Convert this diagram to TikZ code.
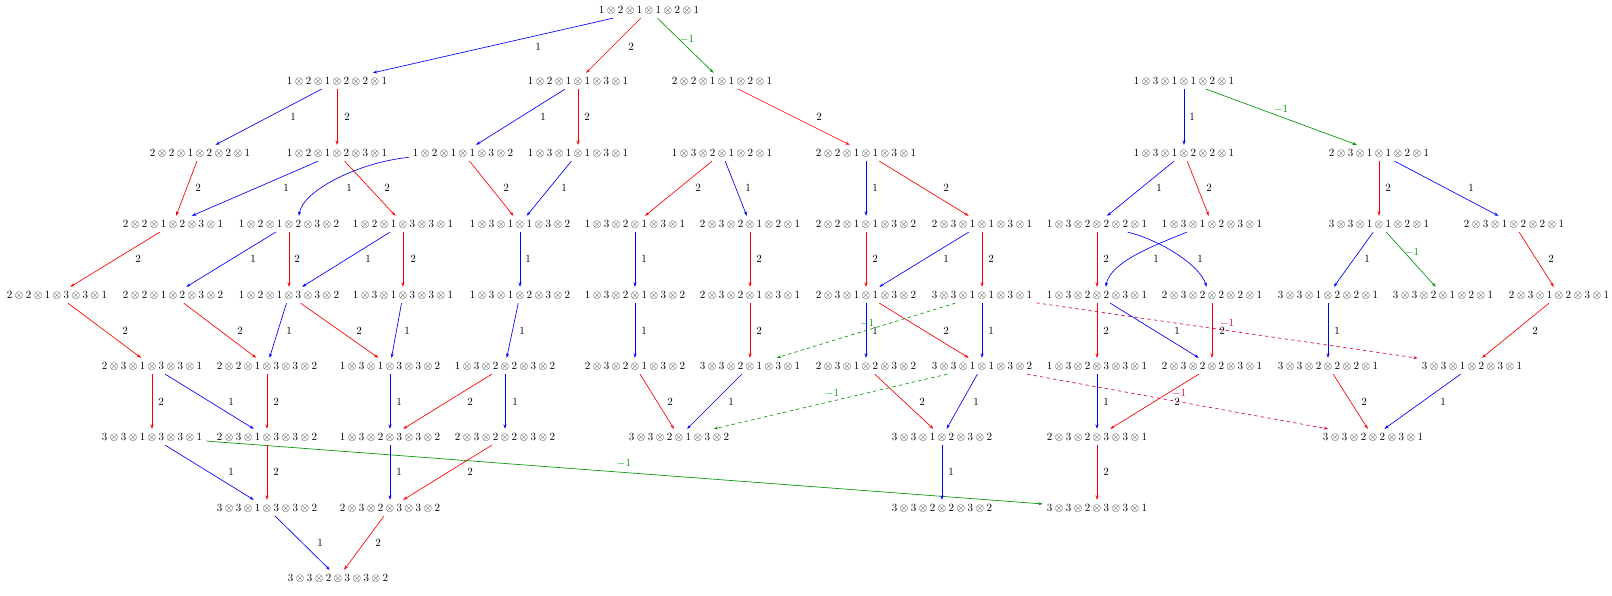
\documentclass[tikz,border=0pt]{standalone}
\usetikzlibrary{arrows.meta}
\definecolor{eblue}{RGB}{0,0,255}
\definecolor{ered}{RGB}{255,0,0}
\definecolor{egreen}{RGB}{0,150,0}
\definecolor{ecrim}{RGB}{205,0,80}
\newcommand\tn[6]{$#1\otimes#2\otimes#3\otimes#4\otimes#5\otimes#6$}
\begin{document}
\begin{tikzpicture}[x=0.9091pt,y=-0.9091pt,
  tnode/.style={inner sep=3.6pt},
  edg/.style={-{Stealth[length=4pt,width=2.8pt]}, line width=0.6pt},
  eb/.style={edg,draw=eblue}, er/.style={edg,draw=ered}, eg/.style={edg,draw=egreen},
  egd/.style={eg,dashed}, ecd/.style={edg,draw=ecrim,dashed},
  lab/.style={inner sep=0pt,text=black},
  labg/.style={inner sep=0pt,text=egreen},
  labc/.style={inner sep=0pt,text=ecrim}]
\useasboundingbox (0,0) rectangle (1612,595);
% row 0
\node[tnode] (n121121) at (649,10) {\tn121121};
% row 1
\node[tnode] (n121221) at (337,81) {\tn121221};
\node[tnode] (n121131) at (578,81) {\tn121131};
\node[tnode] (n221121) at (722,81) {\tn221121};
\node[tnode] (n131121) at (1184,81) {\tn131121};
% row 2
\node[tnode] (n221221) at (200,153) {\tn221221};
\node[tnode] (n121231) at (337,153) {\tn121231};
\node[tnode] (n121132) at (463,153) {\tn121132};
\node[tnode] (n131131) at (578,153) {\tn131131};
\node[tnode] (n132121) at (722,153) {\tn132121};
\node[tnode] (n221131) at (866,153) {\tn221131};
\node[tnode] (n131221) at (1184,153) {\tn131221};
\node[tnode] (n231121) at (1379,153) {\tn231121};
% row 3
\node[tnode] (n221231) at (173,224) {\tn221231};
\node[tnode] (n121232) at (289,224) {\tn121232};
\node[tnode] (n121331) at (403,224) {\tn121331};
\node[tnode] (n131132) at (520,224) {\tn131132};
\node[tnode] (n132131) at (635,224) {\tn132131};
\node[tnode] (n232121) at (750,224) {\tn232121};
\node[tnode] (n221132) at (866,224) {\tn221132};
\node[tnode] (n231131) at (982,224) {\tn231131};
\node[tnode] (n132221) at (1097,224) {\tn132221};
\node[tnode] (n131231) at (1212,224) {\tn131231};
\node[tnode] (n331121) at (1379,224) {\tn331121};
\node[tnode] (n231221) at (1514,224) {\tn231221};
% row 4
\node[tnode] (n221331) at (57,295) {\tn221331};
\node[tnode] (n221232) at (173,295) {\tn221232};
\node[tnode] (n121332) at (289,295) {\tn121332};
\node[tnode] (n131331) at (403,295) {\tn131331};
\node[tnode] (n131232) at (520,295) {\tn131232};
\node[tnode] (n132132) at (635,295) {\tn132132};
\node[tnode] (n232131) at (750,295) {\tn232131};
\node[tnode] (n231132) at (866,295) {\tn231132};
\node[tnode] (n331131) at (982,295) {\tn331131};
\node[tnode] (n132231) at (1097,295) {\tn132231};
\node[tnode] (n232221) at (1212,295) {\tn232221};
\node[tnode] (n331221) at (1328,295) {\tn331221};
\node[tnode] (n332121) at (1443,295) {\tn332121};
\node[tnode] (n231231) at (1559,295) {\tn231231};
% row 5
\node[tnode] (n231331) at (152,366) {\tn231331};
\node[tnode] (n221332) at (267,366) {\tn221332};
\node[tnode] (n131332) at (390,366) {\tn131332};
\node[tnode] (n132232) at (505,366) {\tn132232};
\node[tnode] (n232132) at (635,366) {\tn232132};
\node[tnode] (n332131) at (750,366) {\tn332131};
\node[tnode] (n231232) at (866,366) {\tn231232};
\node[tnode] (n331132) at (982,366) {\tn331132};
\node[tnode] (n132331) at (1097,366) {\tn132331};
\node[tnode] (n232231) at (1212,366) {\tn232231};
\node[tnode] (n332221) at (1328,366) {\tn332221};
\node[tnode] (n331231) at (1472,366) {\tn331231};
% row 6
\node[tnode] (n331331) at (152,437) {\tn331331};
\node[tnode] (n231332) at (267,437) {\tn231332};
\node[tnode] (n132332) at (390,437) {\tn132332};
\node[tnode] (n232232) at (505,437) {\tn232232};
\node[tnode] (n332132) at (679,437) {\tn332132};
\node[tnode] (n331232) at (942,437) {\tn331232};
\node[tnode] (n232331) at (1097,437) {\tn232331};
\node[tnode] (n332231) at (1373,437) {\tn332231};
% row 7
\node[tnode] (n331332) at (267,508) {\tn331332};
\node[tnode] (n232332) at (390,508) {\tn232332};
\node[tnode] (n332232) at (942,508) {\tn332232};
\node[tnode] (n332331) at (1097,508) {\tn332331};
% row 8
\node[tnode] (n332332) at (338,578) {\tn332332};

% edges row 0
\draw[eb] (n121121) -- (n121221) node[lab] at (538,47) {$1$};
\draw[er] (n121121) -- (n121131) node[lab] at (631,47) {$2$};
\draw[eg] (n121121) -- (n221121) node[labg] at (687,39) {$-1$};
% row 1
\draw[eb] (n121221) -- (n221221) node[lab] at (293,117) {$1$};
\draw[er] (n121221) -- (n121231) node[lab] at (347,117) {$2$};
\draw[eb] (n121131) -- (n121132) node[lab] at (543,117) {$1$};
\draw[er] (n121131) -- (n131131) node[lab] at (587,117) {$2$};
\draw[er] (n221121) -- (n221131) node[lab] at (819,117) {$2$};
\draw[eb] (n131121) -- (n131221) node[lab] at (1192,117) {$1$};
\draw[eg] (n131121) -- (n231121) node[labg] at (1281,109) {$-1$};
% row 2
\draw[er] (n221221) -- (n221231) node[lab] at (198,188) {$2$};
\draw[eb] (n121231) -- (n221231) node[lab] at (286,188) {$1$};
\draw[er] (n121231) -- (n121331) node[lab] at (387,188) {$2$};
\draw[eb] ([yshift=-4pt]n121132.west) .. controls (360,162) and (303,190) .. ([xshift=9pt]n121232.north) node[lab] at (349,188) {$1$};
\draw[er] (n121132) -- (n131132) node[lab] at (506,188) {$2$};
\draw[eb] (n131131) -- (n131132) node[lab] at (564,188) {$1$};
\draw[er] (n132121) -- (n132131) node[lab] at (698,188) {$2$};
\draw[eb] (n132121) -- (n232121) node[lab] at (748,188) {$1$};
\draw[eb] (n221131) -- (n221132) node[lab] at (875,188) {$1$};
\draw[er] (n221131) -- (n231131) node[lab] at (946,188) {$2$};
\draw[eb] (n131221) -- (n132221) node[lab] at (1159,188) {$1$};
\draw[er] (n131221) -- (n131231) node[lab] at (1209,188) {$2$};
\draw[er] (n231121) -- (n331121) node[lab] at (1388,188) {$2$};
\draw[eb] (n231121) -- (n231221) node[lab] at (1471,188) {$1$};
% row 3
\draw[er] (n221231) -- (n221331) node[lab] at (138,259) {$2$};
\draw[eb] (n121232) -- (n221232) node[lab] at (253,259) {$1$};
\draw[er] (n121232) -- (n121332) node[lab] at (297,259) {$2$};
\draw[eb] (n121331) -- (n121332) node[lab] at (368,259) {$1$};
\draw[er] (n121331) -- (n131331) node[lab] at (413,259) {$2$};
\draw[eb] (n131132) -- (n131232) node[lab] at (528,259) {$1$};
\draw[eb] (n132131) -- (n132132) node[lab] at (644,259) {$1$};
\draw[er] (n232121) -- (n232131) node[lab] at (759,259) {$2$};
\draw[er] (n221132) -- (n231132) node[lab] at (875,259) {$2$};
\draw[eb] (n231131) -- (n231132) node[lab] at (946,259) {$1$};
\draw[er] (n231131) -- (n331131) node[lab] at (991,259) {$2$};
\draw[er] (n132221) -- (n132231) node[lab] at (1106,259) {$2$};
\draw[eb] ([xshift=28pt]n132221.south) .. controls (1160,240) and (1200,265) .. ([xshift=-5pt]n232221.north) node[lab] at (1200,259) {$1$};
\draw[eb] ([xshift=-23pt]n131231.south) .. controls (1155,245) and (1110,262) .. ([xshift=8pt]n132231.north) node[lab] at (1156,259) {$1$};
\draw[eb] (n331121) -- (n331221) node[lab] at (1367,259) {$1$};
\draw[eg] (n331121) -- (n332121) node[labg] at (1412,252) {$-1$};
\draw[er] (n231221) -- (n231231) node[lab] at (1551,259) {$2$};
% row 4
\draw[er] (n221331) -- (n231331) node[lab] at (125,331) {$2$};
\draw[er] (n221232) -- (n221332) node[lab] at (240,331) {$2$};
\draw[eb] (n121332) -- (n221332) node[lab] at (289,331) {$1$};
\draw[er] (n121332) -- (n131332) node[lab] at (359,331) {$2$};
\draw[eb] (n131331) -- (n131332) node[lab] at (407,331) {$1$};
\draw[eb] (n131232) -- (n132232) node[lab] at (522,331) {$1$};
\draw[eb] (n132132) -- (n232132) node[lab] at (644,331) {$1$};
\draw[er] (n232131) -- (n332131) node[lab] at (759,331) {$2$};
\draw[eb] (n231132) -- (n231232) node[lab] at (875,331) {$1$};
\draw[er] (n231132) -- (n331132) node[lab] at (946,331) {$2$};
\draw[eb] (n331131) -- (n331132) node[lab] at (991,331) {$1$};
\draw[egd] (n331131) -- (n332131) node[labg] at (867,323) {$-1$};
\draw[ecd] (n331131) -- (n331231) node[labc] at (1227,323) {$-1$};
\draw[er] (n132231) -- (n132331) node[lab] at (1106,331) {$2$};
\draw[eb] (n132231) -- (n232231) node[lab] at (1177,331) {$1$};
\draw[er] (n232221) -- (n232231) node[lab] at (1222,331) {$2$};
\draw[eb] (n331221) -- (n332221) node[lab] at (1337,331) {$1$};
\draw[er] (n231231) -- (n331231) node[lab] at (1535,331) {$2$};
% row 5
\draw[er] (n231331) -- (n331331) node[lab] at (161,402) {$2$};
\draw[eb] (n231331) -- (n231332) node[lab] at (231,402) {$1$};
\draw[er] (n221332) -- (n231332) node[lab] at (276,402) {$2$};
\draw[eb] (n131332) -- (n132332) node[lab] at (399,402) {$1$};
\draw[er] (n132232) -- (n132332) node[lab] at (470,402) {$2$};
\draw[eb] (n132232) -- (n232232) node[lab] at (515,402) {$1$};
\draw[er] (n232132) -- (n332132) node[lab] at (670,402) {$2$};
\draw[eb] (n332131) -- (n332132) node[lab] at (731,402) {$1$};
\draw[er] (n231232) -- (n331232) node[lab] at (922,402) {$2$};
\draw[eb] (n331132) -- (n331232) node[lab] at (976,402) {$1$};
\draw[egd] (n331132) -- (n332132) node[labg] at (832,393) {$-1$};
\draw[ecd] (n331132) -- (n332231) node[labc] at (1179,393) {$-1$};
\draw[eb] (n132331) -- (n232331) node[lab] at (1106,402) {$1$};
\draw[er] (n232231) -- (n232331) node[lab] at (1177,402) {$2$};
\draw[er] (n332221) -- (n332231) node[lab] at (1364,402) {$2$};
\draw[eb] (n331231) -- (n332231) node[lab] at (1443,402) {$1$};
% row 6
\draw[eb] (n331331) -- (n331332) node[lab] at (231,472) {$1$};
\draw[eg] (n331331) -- (n332331) node[labg] at (624,463) {$-1$};
\draw[er] (n231332) -- (n331332) node[lab] at (276,472) {$2$};
\draw[eb] (n132332) -- (n232332) node[lab] at (399,472) {$1$};
\draw[er] (n232232) -- (n232332) node[lab] at (470,472) {$2$};
\draw[eb] (n331232) -- (n332232) node[lab] at (951,472) {$1$};
\draw[er] (n232331) -- (n332331) node[lab] at (1106,472) {$2$};
% row 7
\draw[eb] (n331332) -- (n332332) node[lab] at (320,543) {$1$};
\draw[er] (n232332) -- (n332332) node[lab] at (378,543) {$2$};
\end{tikzpicture}
\end{document}
